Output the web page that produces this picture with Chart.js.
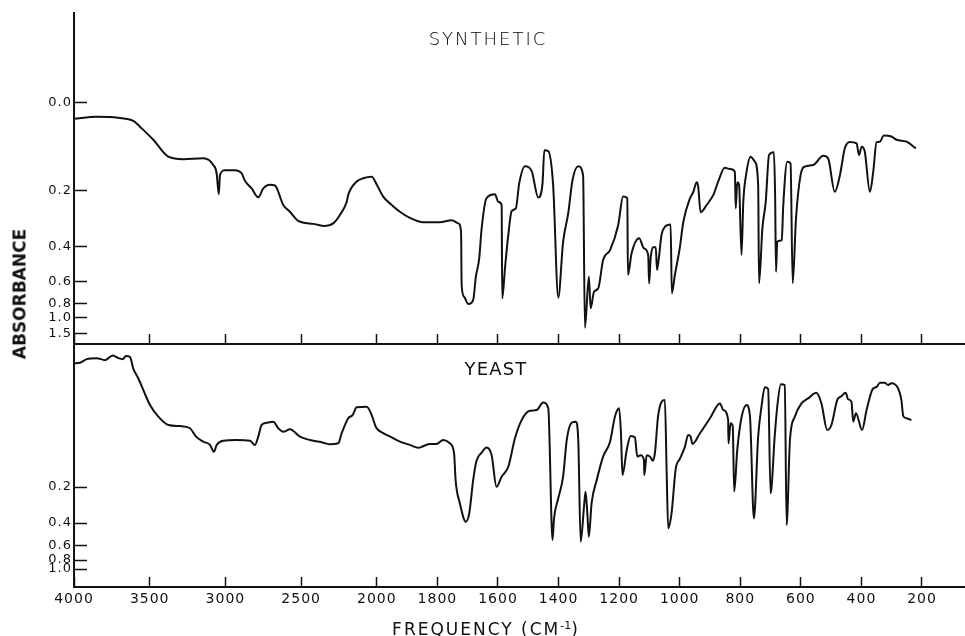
<!DOCTYPE html>
<html><head><meta charset="utf-8">
<script src="https://cdn.jsdelivr.net/npm/chart.js@4.4.1/dist/chart.umd.min.js"></script>
<style>
html,body{margin:0;padding:0;background:#fff;}
#wrap{position:relative;width:965px;height:636px;overflow:hidden;background:#fff;}
canvas{position:absolute;left:0;}
#cTop{top:0;}
#cBot{top:330px;}
.lbl{position:absolute;font-family:"DejaVu Sans",sans-serif;color:#111;white-space:nowrap;line-height:1;}
#tSyn{left:488px;top:30px;font-size:18px;font-weight:300;color:#000;letter-spacing:2px;transform:translateX(-50%);}
#tYeast{left:496px;top:360px;font-size:18px;letter-spacing:1.2px;transform:translateX(-50%);}
#tAbs{left:20px;top:294px;font-size:17px;font-weight:bold;transform:translate(-50%,-50%) rotate(-90deg);}
#tFreq{left:486px;top:620px;font-size:17px;letter-spacing:2px;transform:translateX(-50%);}
#tFreq sup{font-size:11px;letter-spacing:0;vertical-align:6px;}
</style></head><body>
<div id="wrap">
<canvas id="cTop" width="965" height="360"></canvas>
<canvas id="cBot" width="965" height="306"></canvas>
<div class="lbl" id="tSyn">SYNTHETIC</div>
<div class="lbl" id="tYeast">YEAST</div>
<div class="lbl" id="tAbs">ABSORBANCE</div>
<div class="lbl" id="tFreq">FREQUENCY (CM<sup>-1</sup>)</div>
</div>
<script>
// ---- data (frequency in cm-1, absorbance) ----
const FREQ_TICKS = [4000,3500,3000,2500,2000,1800,1600,1400,1200,1000,800,600,400,200];
const TOP_ABS_TICKS = [0.0,0.2,0.4,0.6,0.8,1.0,1.5];
const BOT_ABS_TICKS = [0.2,0.4,0.6,0.8,1.0];

const synFreq = [4000,3850,3707,3608,3553,3476,3377,3278,3146,3080,3058,3044,3036,3003,2937,2893,2871,2827,2783,2750,2706,2673,2618,2574,2519,2420,2343,2288,2244,2199,2189,2133,2090,2034,2000,1979,1951,1924,1891,1847,1792,1753,1731,1722,1720,1712,1698,1682,1673,1662,1654,1638,1610,1599,1588,1586,1577,1566,1555,1541,1530,1511,1489,1467,1453,1447,1434,1418,1401,1385,1368,1354,1335,1319,1313,1300,1294,1283,1269,1253,1230,1203,1187,1173,1171,1159,1134,1118,1104,1101,1096,1088,1079,1075,1069,1060,1049,1030,1026,1016,1000,988,966,955,944,939,931,911,889,873,851,834,818,815,810,804,796,790,781,766,752,741,738,727,716,705,689,685,682,678,663,658,645,634,627,616,601,587,559,526,510,488,471,455,438,416,408,399,389,372,361,350,339,326,301,284,251,220];
const synAbs = [0.030,0.026,0.028,0.034,0.049,0.073,0.111,0.117,0.115,0.131,0.152,0.210,0.157,0.144,0.144,0.152,0.172,0.193,0.219,0.193,0.183,0.185,0.243,0.265,0.297,0.308,0.316,0.306,0.276,0.233,0.212,0.174,0.165,0.161,0.183,0.217,0.243,0.265,0.286,0.302,0.302,0.295,0.306,0.338,0.628,0.730,0.808,0.764,0.568,0.459,0.325,0.222,0.210,0.233,0.243,0.746,0.515,0.351,0.263,0.254,0.179,0.134,0.146,0.220,0.179,0.096,0.098,0.183,0.740,0.380,0.270,0.170,0.134,0.157,1.253,0.568,0.862,0.684,0.655,0.468,0.418,0.312,0.217,0.222,0.557,0.434,0.365,0.410,0.442,0.616,0.459,0.405,0.405,0.525,0.459,0.351,0.319,0.310,0.698,0.557,0.410,0.300,0.222,0.203,0.176,0.188,0.267,0.243,0.212,0.174,0.138,0.141,0.148,0.254,0.176,0.183,0.442,0.233,0.157,0.111,0.123,0.183,0.616,0.325,0.233,0.107,0.101,0.212,0.536,0.380,0.372,0.243,0.123,0.127,0.616,0.288,0.157,0.135,0.131,0.109,0.115,0.203,0.157,0.092,0.078,0.081,0.107,0.088,0.099,0.203,0.148,0.078,0.077,0.064,0.066,0.073,0.077,0.092];

const yeastFreq = [4000,3960,3916,3850,3795,3744,3707,3678,3657,3630,3609,3575,3542,3498,3443,3377,3300,3234,3194,3146,3102,3076,3058,3014,2926,2838,2805,2783,2761,2728,2684,2651,2618,2574,2508,2442,2354,2310,2255,2232,2189,2160,2133,2067,2034,2006,1979,1951,1924,1891,1863,1847,1825,1803,1781,1759,1745,1740,1726,1706,1695,1682,1671,1654,1638,1621,1605,1588,1566,1544,1522,1495,1472,1451,1434,1420,1415,1401,1385,1373,1357,1343,1335,1327,1316,1311,1305,1300,1291,1274,1253,1230,1214,1200,1194,1189,1175,1162,1148,1140,1129,1118,1117,1109,1098,1089,1082,1071,1049,1043,1038,1027,1013,1000,983,972,964,958,933,900,867,856,840,839,832,825,820,810,796,779,768,755,741,730,719,708,700,686,678,666,653,647,636,620,598,576,549,532,513,499,480,466,452,444,433,427,418,398,383,363,350,339,323,312,301,279,268,262,251,235];
const yeastAbs = [-0.156,-0.157,-0.164,-0.166,-0.162,-0.171,-0.166,-0.164,-0.170,-0.168,-0.146,-0.125,-0.100,-0.065,-0.036,-0.014,-0.011,-0.005,0.019,0.034,0.044,0.066,0.044,0.031,0.029,0.031,0.044,0.019,-0.014,-0.020,-0.023,-0.005,0.005,-0.002,0.019,0.029,0.037,0.042,0.039,0.009,-0.032,-0.040,-0.060,-0.061,-0.040,-0.008,0.009,0.021,0.034,0.044,0.053,0.048,0.041,0.041,0.029,0.039,0.071,0.170,0.279,0.391,0.337,0.170,0.096,0.069,0.052,0.077,0.199,0.156,0.118,0.024,-0.027,-0.051,-0.053,-0.071,-0.057,0.541,0.368,0.253,0.156,0.029,-0.020,-0.023,0.029,0.558,0.298,0.221,0.337,0.510,0.279,0.170,0.082,0.034,-0.036,-0.057,0.009,0.150,0.060,0.017,0.021,0.082,0.077,0.094,0.150,0.077,0.082,0.096,0.071,-0.040,-0.077,0.143,0.439,0.337,0.124,0.091,0.050,0.014,0.019,0.041,0.009,-0.032,-0.069,-0.053,-0.027,0.039,-0.019,-0.011,0.221,0.060,-0.034,-0.065,-0.036,0.368,0.019,-0.061,-0.106,-0.102,0.229,0.014,-0.061,-0.113,-0.111,0.414,0.029,-0.036,-0.069,-0.081,-0.094,-0.069,0.000,-0.014,-0.077,-0.086,-0.094,-0.079,-0.073,-0.023,-0.045,0.000,-0.053,-0.102,-0.107,-0.116,-0.116,-0.111,-0.115,-0.104,-0.077,-0.038,-0.032,-0.027];

// axis ranges
const X_END_FREQ = 58;                  // right edge of the frequency axis
const TOP_T_RANGE = [-0.0126, 1.378];   // transmittance at bottom / top of upper panel
const BOT_T_RANGE = [-0.0162, 1.557];   // transmittance at bottom / top of lower panel

// ---- helpers ----
// chart paper changes scale at 2000 cm-1 (half rate above 2000)
function warp(f){ return f >= 2000 ? (4000 - f) / 2 : 1000 + (2000 - f); }
function toT(a){ return Math.pow(10, -a); }
function series(fr, ab){ return fr.map((f,i)=>({x: warp(f), y: toT(ab[i])})); }

const INK = '#111';
function xScale(showLabels){
  return {
    type:'linear', min: warp(4000), max: warp(X_END_FREQ),
    afterBuildTicks: s => { s.ticks = FREQ_TICKS.map(f => ({value: warp(f)})); },
    ticks:{ display: showLabels, autoSkip:false, maxRotation:0, padding:14, color:INK,
            font:{family:'DejaVu Sans', size:14}, callback:(v,i)=>String(FREQ_TICKS[i]) },
    grid:{ display:true, drawOnChartArea:false, drawTicks:true, tickLength:-10, tickWidth:1.5, tickColor:INK },
    border:{ display:true, color:INK, width:2 },
    afterFit: s => { s.height = showLabels ? 49 : 16; s.paddingLeft = 0; s.paddingRight = 0; }
  };
}
function yScale(absTicks, range){
  return {
    type:'linear', position:'left', min: range[0], max: range[1],
    afterBuildTicks: s => { s.ticks = absTicks.map(a => ({value: toT(a)})); },
    ticks:{ autoSkip:false, padding:15, color:INK, font:{family:'DejaVu Sans', size:13},
            callback:(v,i)=>absTicks[i].toFixed(1) },
    grid:{ display:true, drawOnChartArea:false, drawTicks:true, tickLength:-13, tickWidth:1.5, tickColor:INK },
    border:{ display:true, color:INK, width:2 },
    afterFit: s => { s.width = 74; s.paddingTop = 0; s.paddingBottom = 0; }
  };
}
const spacing = {
  id:'letterSpacing',
  beforeDraw(chart){ if ('letterSpacing' in chart.ctx) chart.ctx.letterSpacing = '1px'; }
};
function makeChart(id, label, data, absTicks, range, showX, pad){
  return new Chart(document.getElementById(id), {
    type:'line',
    data:{ datasets:[{ label, data, borderColor:INK, borderWidth:2, pointRadius:0,
                       cubicInterpolationMode:'monotone', fill:false, borderJoinStyle:'round' }] },
    options:{
      responsive:false, animation:false, devicePixelRatio:1,
      layout:{ padding: pad },
      plugins:{ legend:{display:false}, tooltip:{enabled:false}, title:{display:false} },
      scales:{ x: xScale(showX), y: yScale(absTicks, range) }
    },
    plugins:[spacing]
  });
}
makeChart('cTop', 'SYNTHETIC', series(synFreq, synAbs), TOP_ABS_TICKS, TOP_T_RANGE, false, {top:13, left:0, right:0, bottom:0});
makeChart('cBot', 'YEAST', series(yeastFreq, yeastAbs), BOT_ABS_TICKS, BOT_T_RANGE, true, {top:14, left:0, right:0, bottom:0});
</script>
</body></html>
